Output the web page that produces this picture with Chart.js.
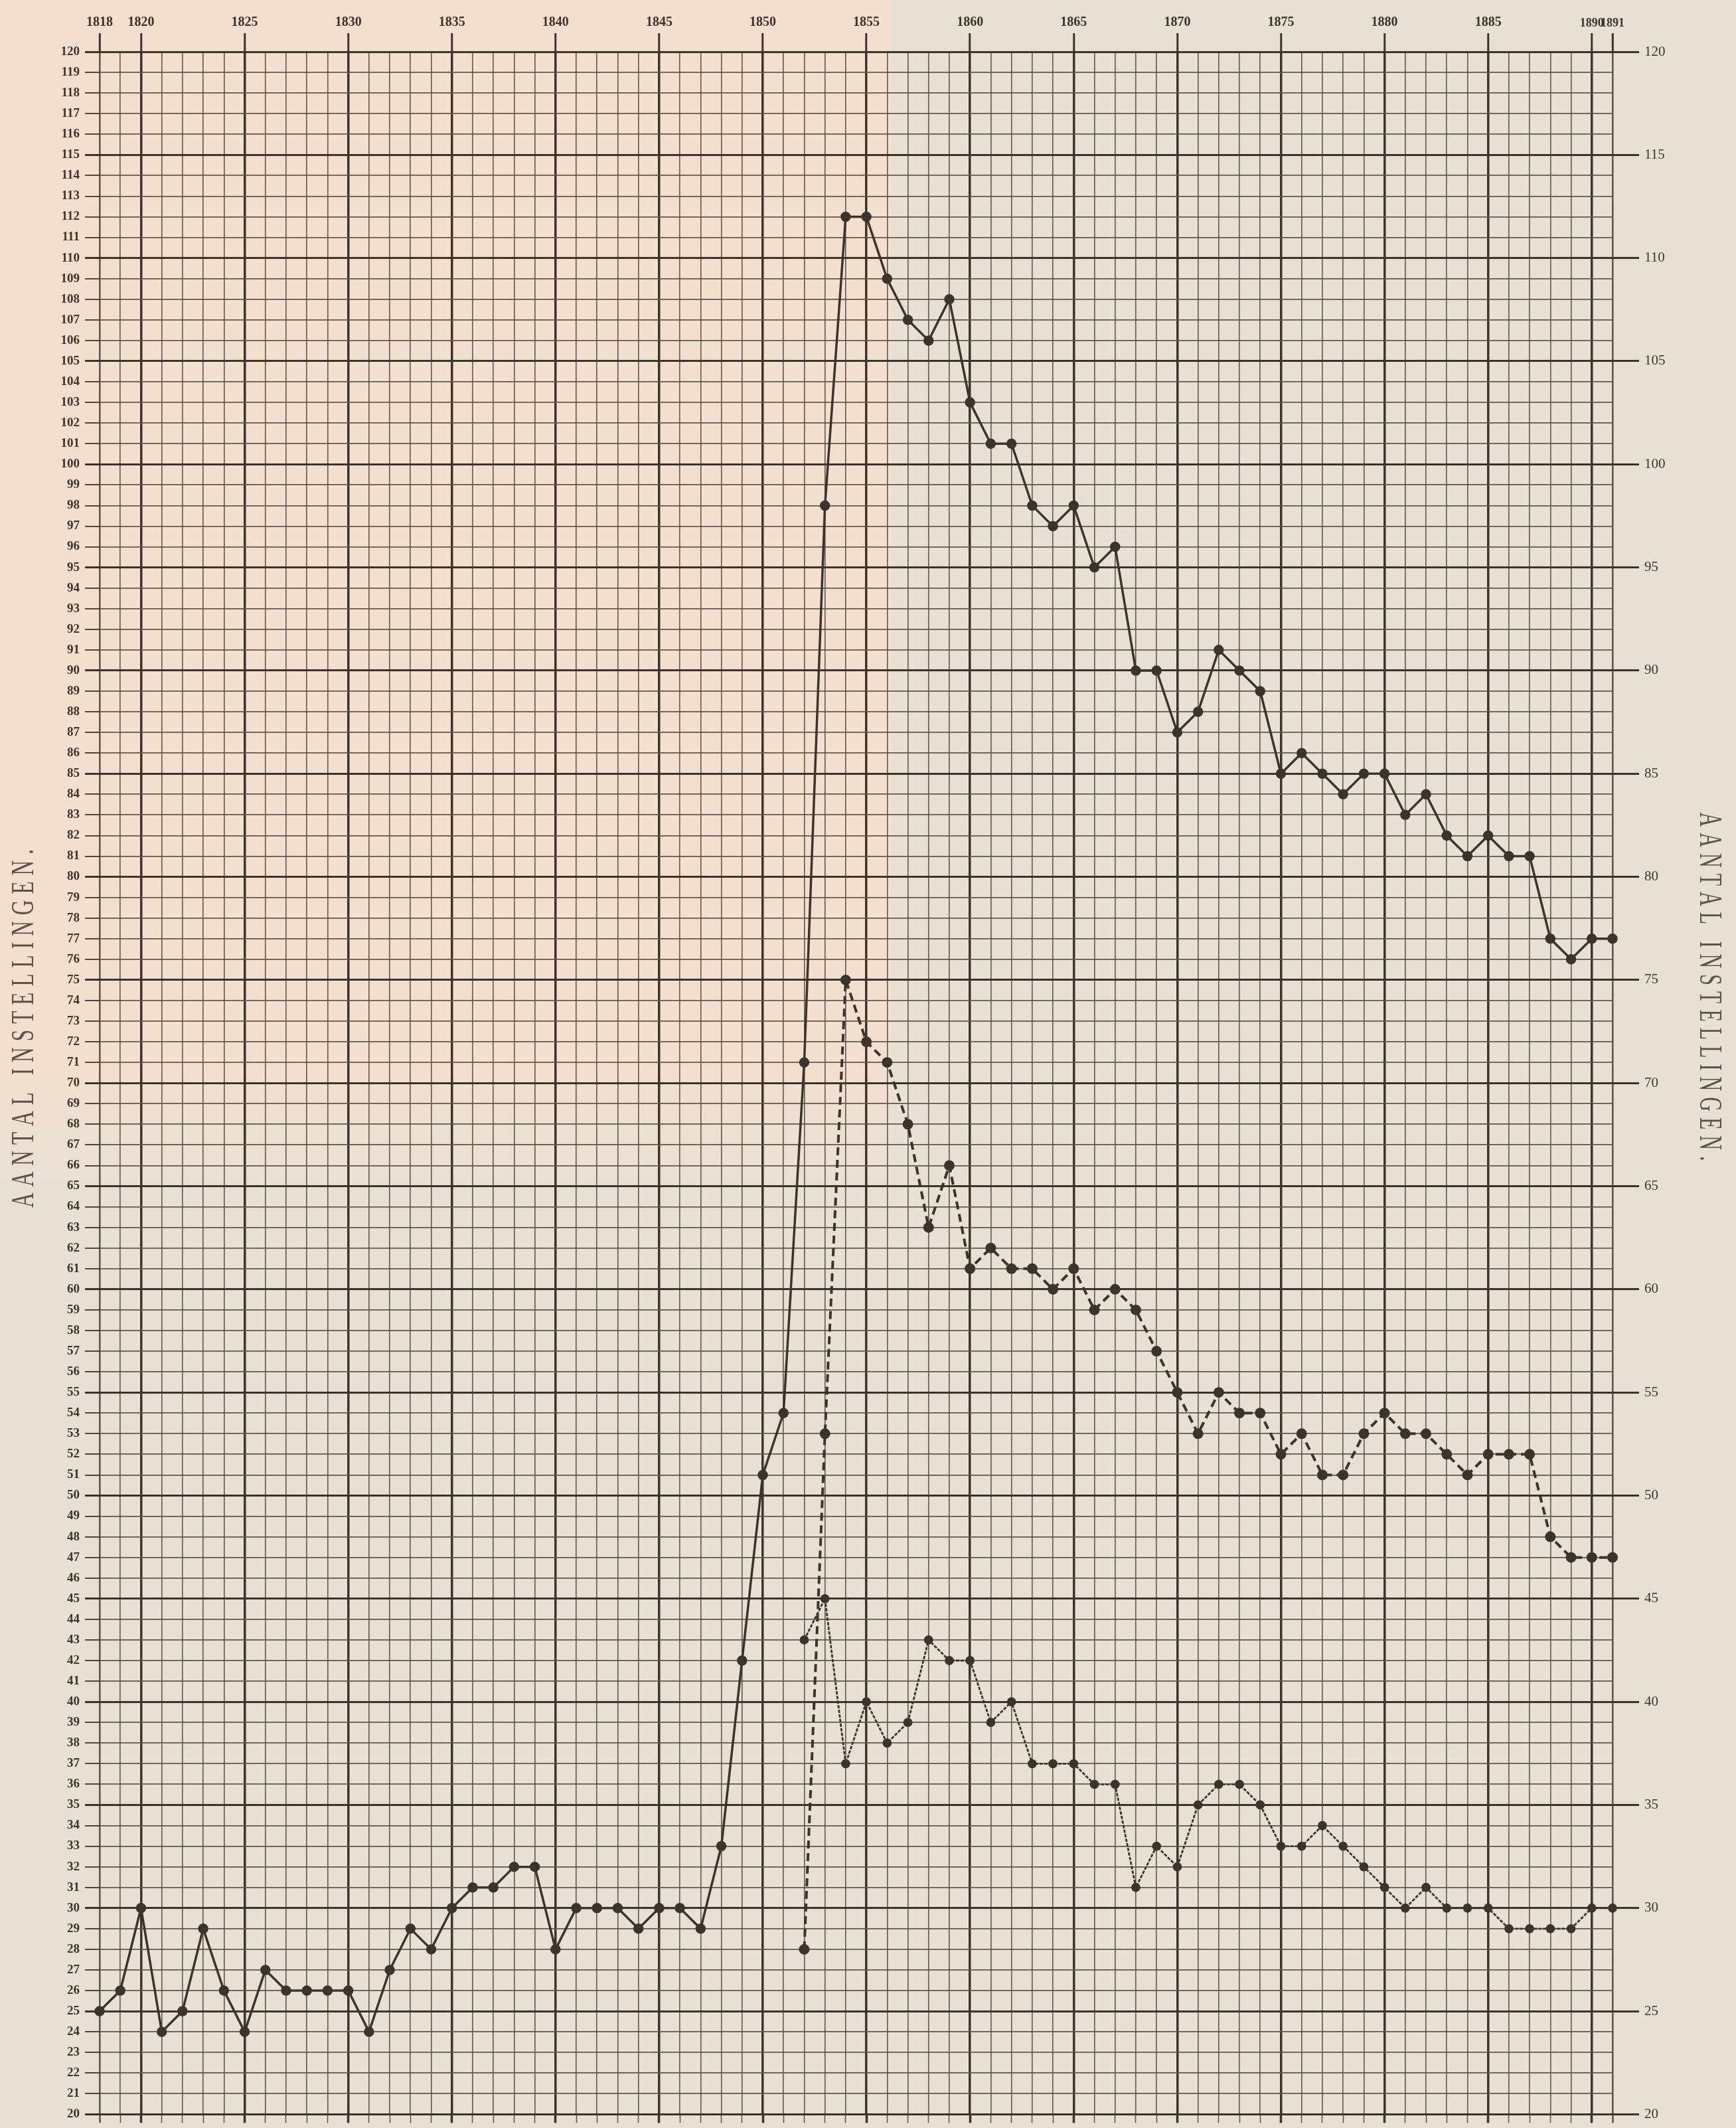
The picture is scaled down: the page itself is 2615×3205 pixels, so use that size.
<!DOCTYPE html>
<html>
<head>
<meta charset="utf-8">
<title>Aantal instellingen 1818-1891</title>
<script src="https://cdn.jsdelivr.net/npm/chart.js@4.4.1/dist/chart.umd.min.js"></script>
<style>
    body { margin: 0; background: #e6e0d5; }
    canvas { display: block; }
</style>
</head>
<body>
<canvas id="chart" width="2615" height="3205"></canvas>
<script>
// Years on the horizontal axis
const years = [
    1818, 1819, 1820, 1821, 1822, 1823, 1824, 1825, 1826, 1827,
    1828, 1829, 1830, 1831, 1832, 1833, 1834, 1835, 1836, 1837,
    1838, 1839, 1840, 1841, 1842, 1843, 1844, 1845, 1846, 1847,
    1848, 1849, 1850, 1851, 1852, 1853, 1854, 1855, 1856, 1857,
    1858, 1859, 1860, 1861, 1862, 1863, 1864, 1865, 1866, 1867,
    1868, 1869, 1870, 1871, 1872, 1873, 1874, 1875, 1876, 1877,
    1878, 1879, 1880, 1881, 1882, 1883, 1884, 1885, 1886, 1887,
    1888, 1889, 1890, 1891
];

// Years that carry a label at the top
const yearLabels = [1818, 1820, 1825, 1830, 1835, 1840, 1845, 1850, 1855, 1860, 1865, 1870, 1875, 1880, 1885, 1890, 1891];

// Solid line, 1818 - 1891
const solidValues = [
    25, 26, 30, 24, 25, 29, 26, 24, 27, 26,
    26, 26, 26, 24, 27, 29, 28, 30, 31, 31,
    32, 32, 28, 30, 30, 30, 29, 30, 30, 29,
    33, 42, 51, 54, 71, 98, 112, 112, 109, 107,
    106, 108, 103, 101, 101, 98, 97, 98, 95, 96,
    90, 90, 87, 88, 91, 90, 89, 85, 86, 85,
    84, 85, 85, 83, 84, 82, 81, 82, 81, 81,
    77, 76, 77, 77
];

// Dashed line, 1852 - 1891
const dashedValues = [
    28, 53, 75, 72, 71, 68, 63, 66, 61, 62,
    61, 61, 60, 61, 59, 60, 59, 57, 55, 53,
    55, 54, 54, 52, 53, 51, 51, 53, 54, 53,
    53, 52, 51, 52, 52, 52, 48, 47, 47, 47
];

// Fine hatched line, 1852 - 1891
const hatchedValues = [
    43, 45, 37, 40, 38, 39, 43, 42, 42, 39,
    40, 37, 37, 37, 36, 36, 31, 33, 32, 35,
    36, 36, 35, 33, 33, 34, 33, 32, 31, 30,
    31, 30, 30, 30, 29, 29, 29, 29, 30, 30
];

const axisTitle = 'AANTAL INSTELLINGEN.';

const ink = '#3b342e';
const inkMinor = '#5f564d';
const inkLight = '#5b524a';
const serif = '"Liberation Serif", "DejaVu Serif", serif';

const lateYears = years.slice(years.indexOf(1852));

function toPoints(xs, ys) {
    return ys.map((v, i) => ({ x: xs[i], y: v }));
}

// Paper background, pinkish in the upper left part
const paperPlugin = {
    id: 'paper',
    beforeDraw(chart) {
        const ctx = chart.ctx;
        ctx.save();
        ctx.fillStyle = '#e6e0d5';
        ctx.fillRect(0, 0, chart.width, chart.height);
        const grad = ctx.createLinearGradient(0, 1600, 0, 1830);
        grad.addColorStop(0, 'rgba(243, 223, 206, 1)');
        grad.addColorStop(1, 'rgba(243, 223, 206, 0)');
        ctx.fillStyle = grad;
        ctx.fillRect(0, 0, 1345, 1830);
        ctx.restore();
    }
};

// Spaced, narrow letters along a rotated axis
function drawSpacedText(ctx, text, cx, cy, angle, length, size) {
    ctx.save();
    ctx.translate(cx, cy);
    ctx.rotate(angle);
    ctx.font = `${size}px ${serif}`;
    ctx.fillStyle = inkLight;
    ctx.textBaseline = 'middle';
    const chars = text.split('');
    const widths = chars.map(c => ctx.measureText(c).width);
    const total = widths.reduce((a, b) => a + b, 0);
    const gap = 9;
    const sx = (length - gap * (chars.length - 1)) / total;
    let x = -length / 2;
    chars.forEach((c, i) => {
        ctx.save();
        ctx.translate(x, 0);
        ctx.scale(sx, 1);
        ctx.fillText(c, 0, 0);
        ctx.restore();
        x += widths[i] * sx + gap;
    });
    ctx.restore();
}

const titlePlugin = {
    id: 'titles',
    afterDraw(chart) {
        const ctx = chart.ctx;
        drawSpacedText(ctx, axisTitle, 37, 1549, -Math.PI / 2, 540, 48);
        drawSpacedText(ctx, axisTitle, 2574, 1486, Math.PI / 2, 525, 48);
    }
};

const lineStyle = {
    borderColor: ink,
    backgroundColor: ink,
    pointBackgroundColor: ink,
    pointBorderColor: ink,
    pointRadius: 6,
    pointHoverRadius: 6,
    tension: 0,
    clip: false
};

const yearGridColor = (c) => (c.tick.value % 5 === 0 ? ink : inkMinor);
const yearGridWidth = (c) => {
    if (c.tick.value % 5 === 0) return 3.5;
    if (c.tick.value === 1818 || c.tick.value === 1891) return 2.6;
    return 1.6;
};

new Chart(document.getElementById('chart').getContext('2d'), {
    type: 'line',
    data: {
        datasets: [
            {
                ...lineStyle,
                label: 'Totaal',
                data: toPoints(years, solidValues),
                borderWidth: 3.5
            },
            {
                ...lineStyle,
                label: 'Gestippeld',
                data: toPoints(lateYears, dashedValues),
                borderWidth: 4,
                borderDash: [12, 7]
            },
            {
                ...lineStyle,
                label: 'Gearceerd',
                data: toPoints(lateYears, hatchedValues),
                borderWidth: 2.8,
                borderDash: [5, 2],
                pointRadius: 5.5
            }
        ]
    },
    options: {
        responsive: false,
        devicePixelRatio: 1,
        animation: false,
        events: [],
        layout: { padding: 0 },
        plugins: {
            legend: { display: false },
            tooltip: { enabled: false }
        },
        scales: {
            x: {
                type: 'linear',
                position: 'top',
                min: 1818,
                max: 1891,
                afterFit: (scale) => { scale.height = 78; },
                afterBuildTicks: (scale) => {
                    scale.ticks = years.map(y => ({ value: y }));
                },
                border: { display: false },
                grid: {
                    color: yearGridColor,
                    lineWidth: yearGridWidth,
                    tickLength: 28,
                    tickWidth: 3,
                    tickColor: (c) => (yearLabels.includes(c.tick.value) ? ink : 'rgba(0,0,0,0)')
                },
                ticks: {
                    autoSkip: false,
                    maxRotation: 0,
                    minRotation: 0,
                    padding: 4,
                    color: ink,
                    font: (c) => ({
                        family: serif,
                        size: (c.tick && c.tick.value >= 1890) ? 18 : 20,
                        weight: 'bold'
                    }),
                    callback: (v) => (yearLabels.includes(v) ? String(v) : '')
                }
            },
            // Only carries the year lines on past the 20 line
            xBottom: {
                type: 'linear',
                position: 'bottom',
                min: 1818,
                max: 1891,
                afterFit: (scale) => { scale.height = 13; },
                afterBuildTicks: (scale) => {
                    scale.ticks = years.map(y => ({ value: y }));
                },
                border: { display: false },
                grid: {
                    drawOnChartArea: false,
                    tickLength: 13,
                    tickWidth: yearGridWidth,
                    tickColor: yearGridColor
                },
                ticks: {
                    autoSkip: false,
                    maxRotation: 0,
                    padding: 0,
                    font: { size: 1 },
                    callback: () => ''
                }
            },
            y: {
                type: 'linear',
                position: 'left',
                min: 20,
                max: 120,
                afterFit: (scale) => { scale.width = 150; },
                border: { display: false },
                grid: {
                    color: (c) => (c.tick.value % 5 === 0 ? ink : inkMinor),
                    lineWidth: (c) => (c.tick.value % 5 === 0 ? 3 : 1.8),
                    tickLength: 22,
                    tickWidth: (c) => (c.tick.value % 5 === 0 ? 3 : 1.8),
                    tickColor: ink
                },
                ticks: {
                    stepSize: 1,
                    autoSkip: false,
                    padding: 8,
                    color: ink,
                    font: { family: serif, size: 19, weight: 'bold' }
                }
            },
            yRight: {
                type: 'linear',
                position: 'right',
                min: 20,
                max: 120,
                afterFit: (scale) => { scale.width = 186; },
                border: { display: false },
                grid: {
                    drawOnChartArea: false,
                    tickLength: 40,
                    tickWidth: 3,
                    tickColor: ink
                },
                ticks: {
                    stepSize: 5,
                    padding: 8,
                    color: ink,
                    font: { family: serif, size: 21 }
                }
            }
        }
    },
    plugins: [paperPlugin, titlePlugin]
});
</script>
</body>
</html>
